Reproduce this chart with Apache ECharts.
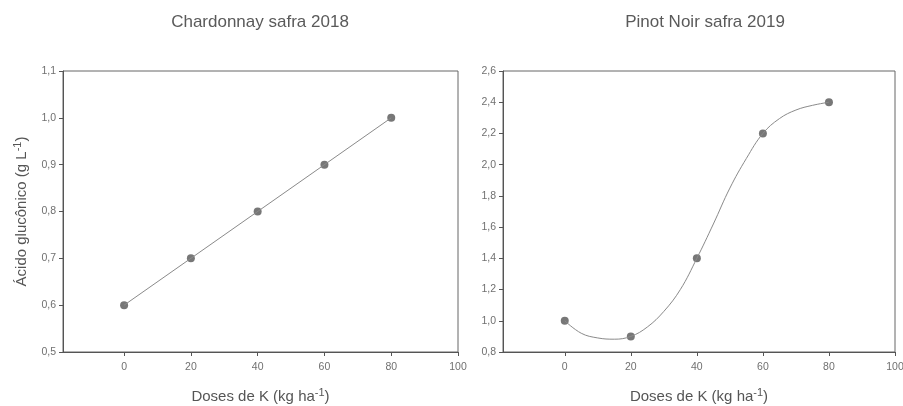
<!DOCTYPE html>
<html>
<head>
<meta charset="utf-8">
<script src="https://cdn.jsdelivr.net/npm/echarts@6/dist/echarts.min.js"></script>
<style>
html,body{margin:0;padding:0;background:#fff;}
#c{width:903px;height:406px;}
</style>
</head>
<body>
<div id="c"></div>
<script>
// ---- data ----
const titles = ['Chardonnay safra 2018', 'Pinot Noir safra 2019'];
const xDoses = [0, 20, 40, 60, 80];
const xTicks = [0, 20, 40, 60, 80, 100];
const chardValues = [0.6, 0.7, 0.8, 0.9, 1.0];
const chardFitX = [0, 80];
const chardFitY = [0.6, 1.0];
const pinotValues = [1.0, 0.9, 1.4, 2.2, 2.4];
const pinotCurveX = [0, 5, 10, 15, 20, 25, 30, 35, 40, 45, 50, 55, 60, 65, 70, 75, 80];
const pinotCurveY = [1.0, 0.92, 0.89, 0.882, 0.9, 0.96, 1.06, 1.2, 1.4, 1.62, 1.85, 2.04, 2.2, 2.295, 2.35, 2.38, 2.4];

const zip = (a, b) => a.map((v, i) => [v, b[i]]);
const fmt = v => v.toFixed(1).replace('.', ',');

const axisCol = '#555';
const labCol = '#707070';
const font = 'Liberation Sans, Arial, sans-serif';

function xAxis(gi, min) {
  return {
    type: 'value', gridIndex: gi, min: min, max: 100,
    axisLine: { show: true, onZero: false, lineStyle: { color: axisCol, width: 1 } },
    axisTick: { show: true, customValues: xTicks, length: 4, lineStyle: { color: axisCol } },
    axisLabel: { customValues: xTicks, color: labCol, fontSize: 10.5, fontFamily: font, margin: 10 },
    splitLine: { show: false },
    name: '{n|Doses de K (kg ha}{s|-1}{n|)}',
    nameLocation: 'middle', nameGap: 35,
    nameTextStyle: {
      rich: {
        n: { fontSize: 15, color: axisCol, fontFamily: font },
        s: { fontSize: 11, color: axisCol, fontFamily: font, padding: [0, 0, 9, 0] }
      }
    }
  };
}
function yAxis(gi, min, max, step, withName) {
  const o = {
    type: 'value', gridIndex: gi, min: min, max: max, interval: step,
    axisLine: { show: true, onZero: false, lineStyle: { color: axisCol, width: 1 } },
    axisTick: { show: true, length: 4, lineStyle: { color: axisCol } },
    axisLabel: { color: labCol, fontSize: 10.5, fontFamily: font, margin: 7, formatter: fmt },
    splitLine: { show: false }
  };
  if (withName) {
    o.name = '{n|Ácido glucônico (g L}{s|-1}{n|)}';
    o.nameLocation = 'middle';
    o.nameGap = 31;
    o.nameTextStyle = {
      rich: {
        n: { fontSize: 15, color: axisCol, fontFamily: font },
        s: { fontSize: 11, color: axisCol, fontFamily: font, padding: [0, 0, 9, 0] }
      }
    };
  }
  return o;
}

const chart = echarts.init(document.getElementById('c'), null, { renderer: 'canvas' });
chart.setOption({
  animation: false,
  backgroundColor: '#fff',
  title: [
    { text: titles[0], left: 255, top: 9, textAlign: 'center',
      textStyle: { fontSize: 17, fontWeight: 'normal', color: '#5a5a5a', fontFamily: font } },
    { text: titles[1], left: 700, top: 9, textAlign: 'center',
      textStyle: { fontSize: 17, fontWeight: 'normal', color: '#5a5a5a', fontFamily: font } }
  ],
  grid: [
    { left: 63, top: 71, width: 395, height: 281, show: true, borderColor: '#666', borderWidth: 1,
      backgroundColor: 'transparent', outerBoundsMode: 'none', containLabel: false },
    { left: 503, top: 71, width: 392, height: 281, show: true, borderColor: '#666', borderWidth: 1,
      backgroundColor: 'transparent', outerBoundsMode: 'none', containLabel: false }
  ],
  xAxis: [xAxis(0, -18.3), xAxis(1, -18.7)],
  yAxis: [yAxis(0, 0.5, 1.1, 0.1, true), yAxis(1, 0.8, 2.6, 0.2, false)],
  series: [
    { type: 'line', xAxisIndex: 0, yAxisIndex: 0, data: zip(chardFitX, chardFitY),
      showSymbol: false, lineStyle: { color: '#8a8a8a', width: 1 }, silent: true },
    { type: 'scatter', xAxisIndex: 0, yAxisIndex: 0, data: zip(xDoses, chardValues),
      symbolSize: 8, itemStyle: { color: '#555' } },
    { type: 'line', xAxisIndex: 1, yAxisIndex: 1, data: zip(pinotCurveX, pinotCurveY),
      smooth: 0.4, showSymbol: false, lineStyle: { color: '#8a8a8a', width: 1 }, silent: true },
    { type: 'scatter', xAxisIndex: 1, yAxisIndex: 1, data: zip(xDoses, pinotValues),
      symbolSize: 8, itemStyle: { color: '#555' } }
  ]
});
</script>
</body>
</html>
